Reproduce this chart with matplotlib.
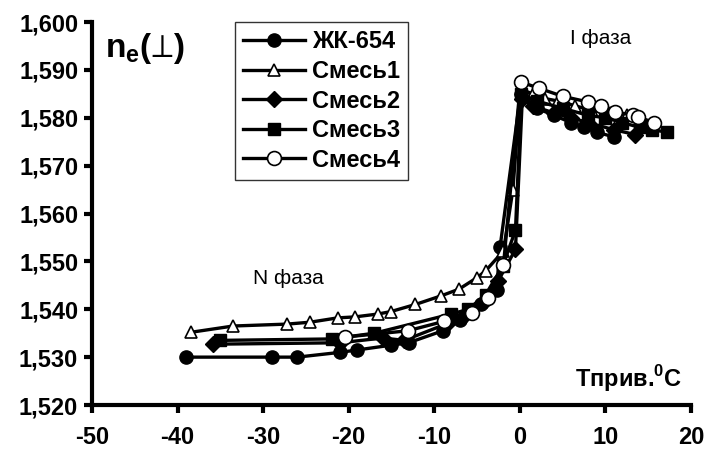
import matplotlib
matplotlib.use("Agg")
import matplotlib.pyplot as plt
from matplotlib.ticker import FuncFormatter

plt.rcParams['font.family'] = ['Liberation Sans', 'DejaVu Sans']
plt.rcParams['mathtext.fontset'] = 'custom'
plt.rcParams['mathtext.rm'] = 'Liberation Sans'
plt.rcParams['mathtext.bf'] = 'Liberation Sans:bold'

# температура (приведённая) и показатель преломления n_e
x_zk = [-39, -29, -26, -21, -19, -15, -13, -9, -7, -4.5, -2.7, -2.3,
        0.1, 2, 4, 6, 7.5, 9, 11]
y_zk = [1.530, 1.530, 1.530, 1.531, 1.5315, 1.5325, 1.533, 1.5355, 1.5378, 1.541, 1.544, 1.553,
        1.585, 1.582, 1.5805, 1.579, 1.578, 1.577, 1.576]

x_s1 = [-38.4, -33.5, -27.2, -24.5, -21.3, -19.3, -16.6, -15.1, -12.2, -9.2, -7.1, -5.0, -4.0, -1.9, -0.8,
        0.1, 1.5, 3, 4.5, 6.5, 8.5, 10.5, 12.5]
y_s1 = [1.5352, 1.5365, 1.5369, 1.5373, 1.5382, 1.5384, 1.539, 1.5395, 1.541, 1.5428, 1.5442, 1.5466, 1.548, 1.5522, 1.565,
        1.586, 1.585, 1.584, 1.5835, 1.5825, 1.5815, 1.581, 1.5805]

x_s2 = [-35.9, -21, -16, -13.5, -8.5, -6.5, -4, -2.5, -0.5,
        0.3, 1.5, 4, 6, 8, 11, 13.5]
y_s2 = [1.5327, 1.533, 1.534, 1.5335, 1.537, 1.5385, 1.542, 1.546, 1.5525,
        1.584, 1.5825, 1.581, 1.580, 1.579, 1.5775, 1.5765]

x_s3 = [-35, -22, -17, -8, -6, -4, -2, -0.5,
        0.2, 2, 5, 8, 10, 12, 14, 15.5, 17.2]
y_s3 = [1.5335, 1.5338, 1.535, 1.539, 1.540, 1.543, 1.549, 1.5565,
        1.585, 1.5835, 1.582, 1.5805, 1.580, 1.579, 1.578, 1.5775, 1.577]

x_s4 = [-20.4, -13.1, -8.8, -5.6, -3.7, -1.9,
        0.1, 2.2, 5.0, 8.0, 9.5, 11.1, 13.2, 13.8, 15.7]
y_s4 = [1.5342, 1.5355, 1.5375, 1.5393, 1.5423, 1.5493,
        1.5875, 1.5862, 1.5845, 1.5833, 1.5825, 1.5812, 1.5806, 1.5802, 1.579]

labels = ['ЖК-654', 'Смесь1', 'Смесь2', 'Смесь3', 'Смесь4']
x_ticks = [-50, -40, -30, -20, -10, 0, 10, 20]
y_ticks = [1.520, 1.530, 1.540, 1.550, 1.560, 1.570, 1.580, 1.590, 1.600]

fig = plt.figure(figsize=(7.1, 4.5), dpi=100)
ax = fig.add_axes([0.1296, 0.1, 0.8434, 0.851])

lw = 2.4
ax.plot(x_zk, y_zk, '-o', color='black', lw=lw, ms=9.5, mfc='black', mec='black', label=labels[0])
ax.plot(x_s1, y_s1, '-^', color='black', lw=lw, ms=9, mfc='white', mec='black', mew=1.2, label=labels[1])
ax.plot(x_s2, y_s2, '-D', color='black', lw=lw, ms=8.5, mfc='black', mec='black', label=labels[2])
ax.plot(x_s3, y_s3, '-s', color='black', lw=lw, ms=9, mfc='black', mec='black', label=labels[3])
ax.plot(x_s4, y_s4, '-o', color='black', lw=lw, ms=10, mfc='white', mec='black', mew=1.2, label=labels[4])

ax.set_xlim(-50, 20)
ax.set_ylim(1.520, 1.600)
ax.set_xticks(x_ticks)
ax.set_yticks(y_ticks)
ax.xaxis.set_major_formatter(FuncFormatter(lambda v, p: '%d' % v))
ax.yaxis.set_major_formatter(FuncFormatter(lambda v, p: ('%.3f' % v).replace('.', ',')))

for s in ['top', 'right']:
    ax.spines[s].set_visible(False)
for s in ['left', 'bottom']:
    ax.spines[s].set_linewidth(3)
ax.tick_params(axis='both', direction='out', width=3, length=6, labelsize=17)
ax.tick_params(axis='x', pad=9)
ax.tick_params(axis='y', pad=4)
for lab in ax.get_xticklabels() + ax.get_yticklabels():
    lab.set_fontweight('bold')

leg = ax.legend(loc='upper left', bbox_to_anchor=(0.239, 1.0), frameon=True, fancybox=False,
                prop={'weight': 'bold', 'size': 17}, handlelength=2.6, handletextpad=0.3,
                labelspacing=0.28, borderpad=0.35, borderaxespad=0)
leg.get_frame().set_edgecolor('black')
leg.get_frame().set_linewidth(1.0)

ax.text(0.022, 0.93, r'$\mathbf{n}_\mathbf{e}$($⊥$)', transform=ax.transAxes,
        fontsize=24, fontweight='bold', va='center', ha='left')
ax.text(-27, 1.5465, 'N фаза', fontsize=15, ha='center', va='center')
ax.text(9.5, 1.5965, 'I фаза', fontsize=15, ha='center', va='center')
ax.text(19, 1.5255, r'Тприв.$^{\mathbf{0}}$C', fontsize=17, fontweight='bold', ha='right', va='center')

fig.savefig('out.png', dpi=100)
